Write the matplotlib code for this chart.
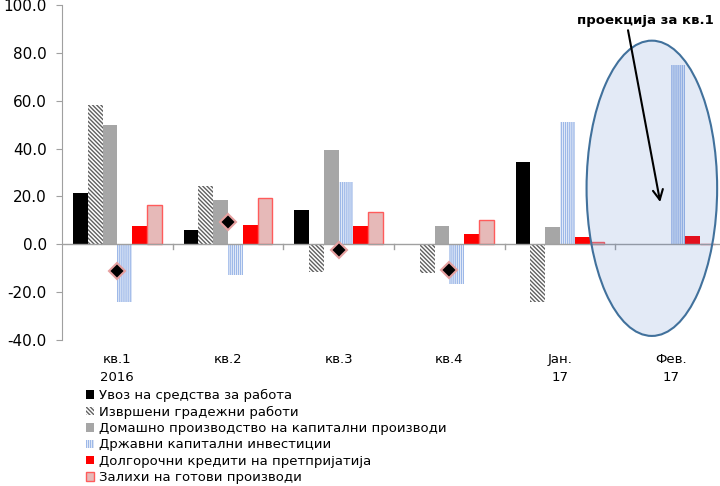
import matplotlib
matplotlib.use("Agg")
import matplotlib.pyplot as plt
import numpy as np
from matplotlib.patches import Ellipse

plt.rcParams['font.family'] = ['DejaVu Sans']
plt.rcParams['hatch.linewidth'] = 1.0

categories = ["кв.1\n2016", "кв.2", "кв.3", "кв.4", "Јан.\n17", "Фев.\n17"]
series_names = [
    "Увоз на средства за работа",
    "Извршени градежни работи",
    "Домашно производство на капитални производи",
    "Државни капитални инвестиции",
    "Долгорочни кредити на претпријатија",
    "Залихи на готови производи",
]
uvoz = [21.3, 6.1, 14.4, 0.0, 34.4, 0.0]
gradezni = [58.4, 24.2, -11.6, -11.8, -24.3, 0.0]
domasno = [49.9, 18.3, 39.5, 7.7, 7.3, 0.0]
drzavni = [-24.2, -13.0, 26.0, -16.5, 51.1, 74.8]
krediti = [7.7, 8.2, 7.7, 4.4, 3.0, 3.3]
zalihi = [16.5, 19.3, 13.5, 10.0, 1.0, 0.0]
diamond = [-11.0, 9.3, -2.3, -10.7]

yticks = [-40, -20, 0, 20, 40, 60, 80, 100]

fig = plt.figure(figsize=(7.2, 4.86), dpi=100)
ax = fig.add_axes([62/720, (486-340)/486, 664/720, 335/486])

n = len(categories)
x = np.arange(n)
bw = 0.8 / 6
styles = [
    dict(color='#000000', edgecolor='#000000', linewidth=0),
    dict(color='white', edgecolor='#606060', hatch='\\' * 8, linewidth=0),
    dict(color='#A6A6A6', edgecolor='#A6A6A6', linewidth=0),
    dict(color='white', edgecolor='#9DB8E8', hatch='|' * 8, linewidth=0),
    dict(color='#FF0000', edgecolor='#FF0000', linewidth=0),
    dict(color='#E6B9B8', edgecolor='#FF5B5B', linewidth=1.0),
]
data = [uvoz, gradezni, domasno, drzavni, krediti, zalihi]
handles = []
for i, (vals, st) in enumerate(zip(data, styles)):
    pos = x + (i - 2.5) * bw
    b = ax.bar(pos, vals, width=bw, label=series_names[i], zorder=2, **st)
    handles.append(b)

ax.plot(x[:len(diamond)], diamond, linestyle='none', marker='D', markersize=8,
        markerfacecolor='black', markeredgecolor='#E6A0A0', markeredgewidth=1.5, zorder=4)

ax.set_xlim(-0.5, n - 0.5)
ax.set_ylim(-40, 100)
ax.set_yticks(yticks)
ax.set_yticklabels([f"{v:.1f}" for v in yticks], fontsize=11)
ax.tick_params(axis='y', length=4, color='#A0A0A0', direction='out', pad=7)

for s in ['top', 'right', 'bottom']:
    ax.spines[s].set_visible(False)
ax.spines['left'].set_color('#A0A0A0')

ax.axhline(0, color='#A0A0A0', linewidth=1.0, zorder=3)
ax.set_xticks([])
for b in np.arange(0.5, n - 0.5, 1.0):
    ax.plot([b, b], [0, -2.0], color='#A0A0A0', linewidth=1.0, zorder=3, clip_on=False)

for xi, lab in zip(x, categories):
    ax.text(xi, -45.5, lab, ha='center', va='top', fontsize=9.5, linespacing=1.45)

ell = Ellipse((4.83, 23.4), 1.18, 123.4, facecolor='#4472C4', alpha=0.15, zorder=5)
ax.add_patch(ell)
ell2 = Ellipse((4.83, 23.4), 1.18, 123.4, facecolor='none', edgecolor='#41719C', linewidth=1.5, zorder=6)
ax.add_patch(ell2)

ax.annotate("", xy=(4.91, 16.5), xytext=(4.61, 90.6),
            arrowprops=dict(arrowstyle='->', color='black', lw=1.5, mutation_scale=18), zorder=7)
ax.text(4.77, 93.6, "проекција за кв.1", ha='center', va='center', fontsize=9.5,
        fontweight='bold', zorder=7)

leg = fig.legend(handles=handles, loc='upper left', bbox_to_anchor=(86/720, 1 - 389/486),
                 frameon=False, fontsize=9.5, handlelength=0.6, handleheight=0.6,
                 handletextpad=0.35, labelspacing=0.26, borderpad=0, borderaxespad=0)

fig.savefig("out.png", dpi=100)
